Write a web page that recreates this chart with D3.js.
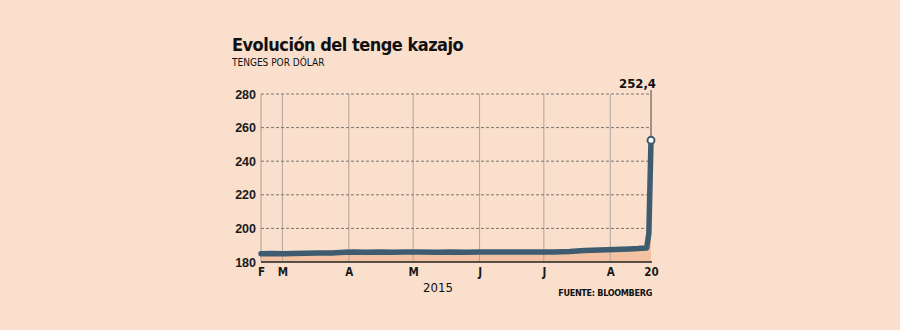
<!DOCTYPE html>
<html>
<head>
<meta charset="utf-8">
<script src="https://cdn.jsdelivr.net/npm/d3@7"></script>
<style>
  body { margin: 0; background: #f9dfcc; }
  svg { display: block; }
</style>
</head>
<body>
<div id="chart"></div>
<script>
// Data_____________________________________________
const dates = ["2015-02-19","2015-02-24","2015-03-02","2015-03-06","2015-03-12","2015-03-18",
    "2015-03-24","2015-03-30","2015-04-03","2015-04-09","2015-04-15","2015-04-21","2015-04-27",
    "2015-05-04","2015-05-12","2015-05-18","2015-05-25","2015-06-01","2015-06-08","2015-06-15",
    "2015-06-22","2015-06-29","2015-07-06","2015-07-13","2015-07-20","2015-07-27","2015-08-03",
    "2015-08-10","2015-08-14","2015-08-18","2015-08-19","2015-08-20"];
const tenge = [184.9, 185.0, 184.9, 185.0, 185.2, 185.3,
    185.4, 185.8, 186.0, 185.8, 185.9, 185.8, 185.9,
    185.9, 185.8, 185.9, 185.8, 185.9, 186.0, 186.0,
    186.0, 186.0, 186.0, 186.3, 186.8, 187.1, 187.5,
    187.8, 188.0, 188.4, 197.0, 252.4];
const yTicks = [180, 200, 220, 240, 260, 280];
const monthTicks = ["2015-03-01","2015-04-01","2015-05-01","2015-06-01","2015-07-01","2015-08-01"];
const monthLabels = ["M", "A", "M", "J", "J", "A"];
const lastLabel = "252,4";

const parse = d3.timeParse("%Y-%m-%d");
const data = dates.map((d, i) => ({date: parse(d), value: tenge[i]}));

// Layout___________________________________________
const width = 900, height = 330;
const pLeft = 261, pRight = 651, pTop = 94, pBottom = 262;
const lineColor = "#3f5b70";
const areaColor = "#f3c2a2";
const condensed = "DejaVu Sans Condensed, DejaVu Sans, sans-serif";

const svg = d3.select("#chart").append("svg")
    .attr("width", width)
    .attr("height", height);

svg.append("rect").attr("width", width).attr("height", height).attr("fill", "#f9dfcc");

const x = d3.scaleTime()
    .domain([data[0].date, data[data.length - 1].date])
    .range([pLeft, pRight]);
const y = d3.scaleLinear()
    .domain([180, 280])
    .range([pBottom, pTop]);

// Titles
svg.append("text")
    .attr("x", 232).attr("y", 51)
    .attr("font-family", condensed).attr("font-weight", "bold")
    .attr("font-size", 18).attr("letter-spacing", -0.5).attr("fill", "#111")
    .text("Evolución del tenge kazajo");
svg.append("text")
    .attr("x", 232).attr("y", 66)
    .attr("font-family", condensed).attr("font-weight", "normal")
    .attr("font-size", 10).attr("fill", "#111")
    .text("TENGES POR DÓLAR");

// Area under the line
const area = d3.area()
    .x(d => x(d.date))
    .y0(y(180))
    .y1(d => y(d.value));
svg.append("path").datum(data)
    .attr("d", area)
    .attr("fill", areaColor);

// Vertical month gridlines
const monthDates = monthTicks.map(parse);
svg.append("line")
    .attr("x1", x(data[0].date)).attr("x2", x(data[0].date))
    .attr("y1", pTop).attr("y2", pBottom)
    .attr("stroke", "#cdbfb3").attr("stroke-width", 2);
svg.selectAll(".vgrid")
    .data(monthDates)
    .enter()
    .append("line")
    .attr("class", "vgrid")
    .attr("x1", d => x(d)).attr("x2", d => x(d))
    .attr("y1", pTop).attr("y2", pBottom)
    .attr("stroke", "#b0a69e").attr("stroke-width", 1);

// Horizontal gridlines (dashed)
svg.selectAll(".hgrid")
    .data(yTicks.slice(1))
    .enter()
    .append("line")
    .attr("class", "hgrid")
    .attr("x1", pLeft).attr("x2", pRight)
    .attr("y1", d => y(d)).attr("y2", d => y(d))
    .attr("stroke", "#7a7470").attr("stroke-width", 1)
    .attr("stroke-dasharray", "3,2");

// Y axis
const yAxis = d3.axisLeft(y).tickValues(yTicks).tickSize(0).tickPadding(5);
const gy = svg.append("g")
    .attr("transform", `translate(${pLeft},0)`)
    .call(yAxis);
gy.select(".domain").remove();
gy.selectAll("text")
    .attr("font-family", "Liberation Sans, Arial, sans-serif")
    .attr("font-size", 12.5).attr("font-weight", "bold").attr("fill", "#1a1a1a");

// X axis
const lastDate = data[data.length - 1].date;
const xTickDates = [data[0].date].concat(monthDates, [lastDate]);
const xTickLabels = ["F"].concat(monthLabels, ["20"]);
const xAxis = d3.axisBottom(x)
    .tickValues(xTickDates)
    .tickFormat((d, i) => xTickLabels[i])
    .tickSize(0).tickPadding(6);
const gx = svg.append("g")
    .attr("transform", `translate(0,${pBottom})`)
    .call(xAxis);
gx.select(".domain")
    .attr("stroke", "#222").attr("stroke-width", 1.5)
    .attr("d", `M${pLeft},0H${pRight + 1}`);
gx.selectAll("text")
    .attr("font-family", condensed)
    .attr("font-size", 11.5).attr("font-weight", "bold").attr("fill", "#1a1a1a");

// Marker for last value
svg.append("line")
    .attr("x1", x(lastDate)).attr("x2", x(lastDate))
    .attr("y1", pTop - 4).attr("y2", y(tenge[tenge.length - 1]))
    .attr("stroke", "#444").attr("stroke-width", 1);

// Line
const line = d3.line()
    .x(d => x(d.date))
    .y(d => y(d.value));
svg.append("path").datum(data)
    .attr("d", line)
    .attr("fill", "none")
    .attr("stroke", lineColor)
    .attr("stroke-width", 5.5)
    .attr("stroke-linejoin", "round")
    .attr("stroke-linecap", "round");

svg.append("circle")
    .attr("cx", x(lastDate)).attr("cy", y(tenge[tenge.length - 1]))
    .attr("r", 3.5)
    .attr("fill", "#fff")
    .attr("stroke", lineColor).attr("stroke-width", 2);

svg.append("text")
    .attr("x", x(lastDate) + 5).attr("y", 88)
    .attr("text-anchor", "end")
    .attr("font-family", condensed)
    .attr("font-size", 13).attr("font-weight", "bold").attr("fill", "#111")
    .text(lastLabel);

// Year label and source
svg.append("text")
    .attr("x", 438).attr("y", 292)
    .attr("text-anchor", "middle")
    .attr("font-family", condensed)
    .attr("font-size", 13).attr("fill", "#111")
    .text("2015");
svg.append("text")
    .attr("x", 652).attr("y", 296)
    .attr("text-anchor", "end")
    .attr("font-family", condensed)
    .attr("font-size", 9).attr("font-weight", "bold").attr("letter-spacing", -0.3).attr("fill", "#111")
    .text("FUENTE: BLOOMBERG");
</script>
</body>
</html>
